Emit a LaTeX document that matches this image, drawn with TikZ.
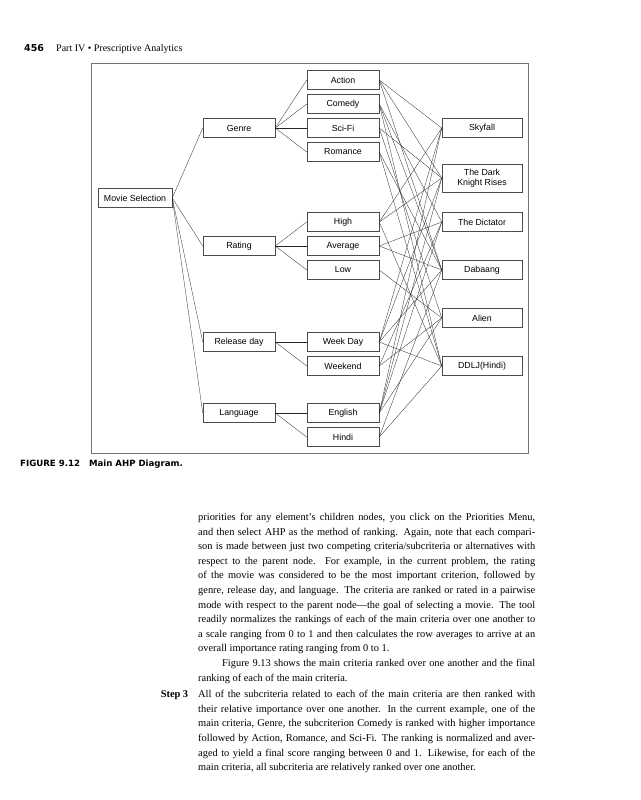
\documentclass[tikz,border=0pt]{standalone}
\usepackage{fontspec}
\setmainfont{Liberation Serif}
\setsansfont{Liberation Sans}
\newfontfamily\capsans{DejaVu Sans}
\usetikzlibrary{positioning,shadows}

\tikzset{
  ahpbox/.style={draw=black!70, fill=white, line width=0.5pt,
    minimum width=72pt, minimum height=19pt, inner sep=2pt,
    align=center, font=\sffamily\fontsize{8.8}{9.8}\selectfont,
    drop shadow={shadow xshift=0.9pt, shadow yshift=-0.9pt,
      fill=black!30, opacity=1}},
  altbox/.style={ahpbox, minimum width=80pt},
  link/.style={black!85, line width=0.3pt},
}

\begin{document}
\begin{tikzpicture}[x=1pt, y=-1pt, node distance=4.5pt]
  \useasboundingbox[fill=white] (0,0) rectangle (640,800);

  % running head
  \node[anchor=base west, inner sep=0pt,
    font=\capsans\bfseries\fontsize{9.5}{11}\selectfont] (pagenum) at (24,52) {456};
  \node[anchor=base west, inner sep=0pt, font=\fontsize{10}{12}\selectfont]
    (runhead) at (56,52) {Part IV \textbullet\ Prescriptive Analytics};

  % frame of the figure
  \draw[black!55, line width=0.7pt] (91,63) rectangle (528,453);

  % goal and main criteria
  \node[ahpbox, minimum width=74pt] (movie) at (135,198) {Movie Selection};
  \node[ahpbox] (genre) at (239,128) {Genre};
  \node[ahpbox] (rating) at (239,246) {Rating};
  \node[ahpbox] (release) at (239,342) {Release day};
  \node[ahpbox] (lang) at (239,413) {Language};

  % subcriteria
  \node[ahpbox] (action) at (343,80) {Action};
  \node[ahpbox, below=of action] (comedy) {Comedy};
  \node[ahpbox, below=of comedy] (scifi) {Sci-Fi};
  \node[ahpbox, below=of scifi] (romance) {Romance};
  \node[ahpbox] (high) at (343,222) {High};
  \node[ahpbox, below=of high] (average) {Average};
  \node[ahpbox, below=of average] (low) {Low};
  \node[ahpbox] (weekday) at (343,342) {Week Day};
  \node[ahpbox, below=of weekday] (weekend) {Weekend};
  \node[ahpbox] (english) at (343,413) {English};
  \node[ahpbox, below=of english] (hindi) {Hindi};

  % alternatives
  \node[altbox] (skyfall) at (482,128) {Skyfall};
  \node[altbox, minimum height=28pt] (darkknight) at (482,178) {The Dark\\Knight Rises};
  \node[altbox] (dictator) at (482,222) {The Dictator};
  \node[altbox] (dabaang) at (482,270) {Dabaang};
  \node[altbox] (alien) at (482,318) {Alien};
  \node[altbox] (ddlj) at (482,366) {DDLJ(Hindi)};

  % links of the hierarchy
  \foreach \c in {genre,rating,release,lang}
    \draw[link] (movie.east) -- (\c.west);
  \foreach \s in {action,comedy,scifi,romance}
    \draw[link] (genre.east) -- (\s.west);
  \foreach \s in {high,average,low}
    \draw[link] (rating.east) -- (\s.west);
  \foreach \s in {weekday,weekend}
    \draw[link] (release.east) -- (\s.west);
  \foreach \s in {english,hindi}
    \draw[link] (lang.east) -- (\s.west);
  % subcriteria to alternatives
  \foreach \s/\a in {action/skyfall, action/darkknight, action/dabaang,
      comedy/dictator, comedy/dabaang, comedy/ddlj,
      scifi/darkknight, scifi/alien, romance/dabaang, romance/ddlj,
      high/skyfall, high/darkknight, high/ddlj,
      average/dictator, average/dabaang, low/alien,
      weekday/skyfall, weekday/darkknight, weekday/dabaang, weekday/ddlj,
      weekend/dictator, weekend/alien,
      english/skyfall, english/darkknight, english/dictator, english/alien,
      hindi/dabaang, hindi/ddlj}
    \draw[link] (\s.east) -- (\a.west);

  % caption
  \node[anchor=base west, inner sep=0pt,
    font=\capsans\bfseries\fontsize{8.6}{10}\selectfont] (caption) at (20,466)
    {FIGURE 9.12\hspace{9pt}Main AHP Diagram.};

  % body text
  \node[anchor=north west, inner sep=0pt, text width=337pt, align=justify,
    font=\fontsize{10.4}{14.6}\selectfont] (body) at (198,513) {%
    priorities for any element's children nodes, you click on the Priorities Menu,\linebreak
    and then select AHP as the method of ranking. Again, note that each compari-\linebreak
    son is made between just two competing criteria/subcriteria or alternatives with\linebreak
    respect to the parent node. For example, in the current problem, the rating\linebreak
    of the movie was considered to be the most important criterion, followed by\linebreak
    genre, release day, and language. The criteria are ranked or rated in a pairwise\linebreak
    mode with respect to the parent node---the goal of selecting a movie. The tool\linebreak
    readily normalizes the rankings of each of the main criteria over one another to\linebreak
    a scale ranging from 0 to 1 and then calculates the row averages to arrive at an\linebreak
    overall importance rating ranging from 0 to 1.\par
    \hspace*{24pt}Figure 9.13 shows the main criteria ranked over one another and the final\linebreak
    ranking of each of the main criteria.\par
    \vspace{2pt}%
    \leavevmode\llap{\textbf{Step 3}\hspace{10pt}}All of the subcriteria related to each of the main criteria are then ranked with\linebreak
    their relative importance over one another. In the current example, one of the\linebreak
    main criteria, Genre, the subcriterion Comedy is ranked with higher importance\linebreak
    followed by Action, Romance, and Sci-Fi. The ranking is normalized and aver-\linebreak
    aged to yield a final score ranging between 0 and 1. Likewise, for each of the\linebreak
    main criteria, all subcriteria are relatively ranked over one another.};
\end{tikzpicture}
\end{document}
